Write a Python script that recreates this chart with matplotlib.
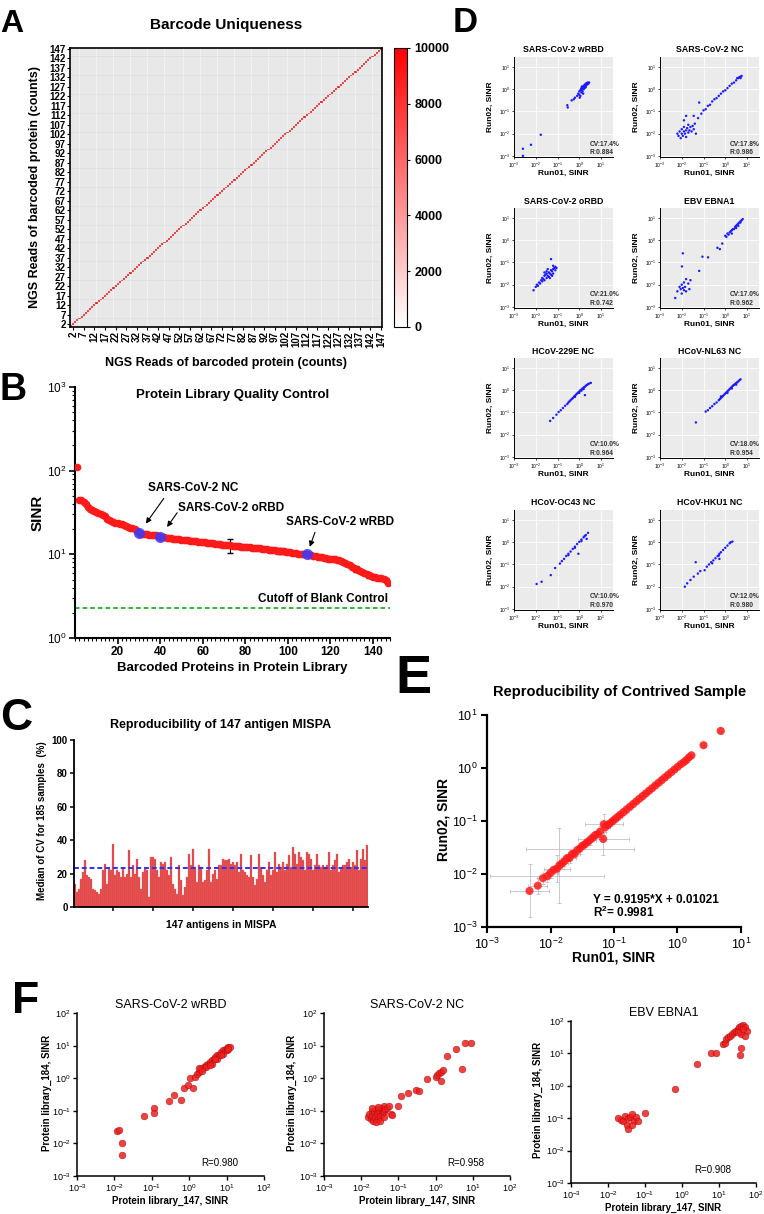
import matplotlib
matplotlib.use('Agg')
import matplotlib.pyplot as plt
import numpy as np
from matplotlib import font_manager
from matplotlib.colors import LinearSegmentedColormap
from matplotlib.ticker import MultipleLocator, NullLocator, FixedLocator, FuncFormatter

W, H = 764, 1214
names = {f.name for f in font_manager.fontManager.ttflist}
NARROW = 'Liberation Sans Narrow' if 'Liberation Sans Narrow' in names else 'Liberation Sans'

plt.rcParams.update({
    'font.family': ['Liberation Sans', 'DejaVu Sans'], 'font.size': 8,
    'mathtext.fontset': 'custom', 'mathtext.rm': 'Liberation Sans',
    'mathtext.bf': 'Liberation Sans:bold', 'mathtext.it': 'Liberation Sans:italic',
    'mathtext.default': 'bf', 'axes.linewidth': 1.0,
})

# ---------------- data ----------------
# A: barcode uniqueness heatmap (diagonal counts)
n_barcodes = 147
diag_reads = [10000] * 147
cbar_ticks = [0, 2000, 4000, 6000, 8000, 10000]

# B: SINR of 147 barcoded proteins (sorted)
sinr = [110, 45, 44, 42, 40, 37, 35, 34, 33, 32,
        31, 30, 29.5, 28.5, 26.5, 25.5, 25, 24.5, 24, 23.6,
        23.2, 23, 22.6, 22, 21.2, 20.8, 20.4, 20, 19.2, 17.8,
        17.7, 17.6, 17.4, 17.3, 17.2, 17.0, 16.9, 16.8, 16.6, 16.2,
        16.0, 15.9, 15.8, 15.6, 15.5, 15.4, 15.3, 15.2, 15.1, 15.0,
        14.9, 14.8, 14.7, 14.6, 14.5, 14.4, 14.3, 14.2, 14.1, 14.0,
        13.9, 13.8, 13.7, 13.6, 13.5, 13.4, 13.3, 13.2, 13.1, 13.0,
        12.9, 12.85, 12.8, 12.7, 12.6, 12.55, 12.5, 12.4, 12.3, 12.2,
        12.15, 12.1, 12.0, 11.95, 11.9, 11.8, 11.75, 11.7, 11.6, 11.5,
        11.4, 11.3, 11.2, 11.15, 11.1, 11.0, 10.95, 10.9, 10.8, 10.7,
        10.6, 10.5, 10.4, 10.3, 10.2, 10.15, 10.1, 10.05, 10.0, 9.8,
        9.7, 9.6, 9.5, 9.4, 9.3, 9.2, 9.1, 9.0, 8.9, 8.85,
        8.8, 8.7, 8.6, 8.5, 8.3, 8.1, 7.9, 7.6, 7.4, 7.1,
        6.9, 6.7, 6.5, 6.4, 6.2, 6.0, 5.8, 5.6, 5.5, 5.4,
        5.3, 5.25, 5.2, 5.15, 5.1, 4.9, 4.6]
err_idx = [8, 15, 18, 23, 44, 57, 73, 90, 97, 118, 125, 132, 138, 143]
err_val = [1.0, 0.8, 0.7, 0.6, 0.4, 0.5, 2.5, 0.4, 0.8, 0.4, 0.5, 0.5, 0.4, 0.3]
hl_idx = [30, 40, 109]
hl_names = ['SARS-CoV-2 NC', 'SARS-CoV-2 oRBD', 'SARS-CoV-2 wRBD']
cutoff = 2.27

# C: median CV (%) of 147 antigens
cv = [14, 9, 11, 17, 21, 28, 19, 18, 17, 11,
      10, 9, 8, 11, 22, 26, 14, 23, 22, 38,
      19, 22, 21, 18, 23, 18, 20, 34, 18, 25,
      20, 29, 18, 11, 21, 23, 22, 6, 30, 30,
      29, 22, 18, 27, 26, 27, 22, 19, 30, 14,
      11, 8, 25, 16, 7, 12, 18, 32, 25, 35,
      24, 15, 25, 24, 15, 16, 22, 35, 15, 20,
      22, 17, 25, 25, 29, 28, 28, 29, 26, 27,
      25, 27, 21, 32, 22, 21, 19, 18, 31, 18,
      13, 17, 32, 24, 19, 15, 22, 27, 19, 22,
      33, 21, 26, 24, 27, 22, 26, 31, 24, 36,
      32, 26, 33, 30, 28, 22, 33, 32, 29, 22,
      25, 32, 25, 24, 25, 24, 25, 33, 22, 25,
      28, 32, 21, 23, 25, 25, 27, 29, 24, 27,
      25, 34, 22, 29, 35, 28, 37]
cv_median = 23.4

# D: Run01 vs Run02 (log10 SINR) for 8 antigens
d1_x = [-2.59, -2.59, -2.22, -1.77, -0.53, -0.55, -0.35, -0.25, -0.2, -0.1, -0.05, 0.0, 0.0, 0.05, 0.05, 0.08, 0.1, 0.1, 0.12, 0.15, 0.15, 0.18, 0.2, 0.2, 0.22, 0.25, 0.25, 0.28, 0.3, 0.3, 0.33, 0.35, 0.38, 0.4, 0.42, 0.45, 0.02, 0.12, 0.18]
d1_y = [-2.68, -3.0, -2.5, -2.05, -0.82, -0.72, -0.5, -0.45, -0.38, -0.3, -0.2, -0.25, -0.1, -0.05, -0.3, 0.0, -0.15, 0.05, -0.05, 0.1, -0.1, 0.05, 0.15, 0.0, 0.1, 0.2, 0.05, 0.15, 0.25, 0.1, 0.2, 0.28, 0.22, 0.3, 0.25, 0.3, -0.38, 0.12, -0.2]
d2_x = [-2.2, -2.15, -2.1, -2.05, -2.0, -2.0, -1.95, -1.9, -1.9, -1.85, -1.8, -1.8, -1.75, -1.7, -1.7, -1.65, -1.6, -1.55, -1.5, -1.45, -1.4, -1.9, -1.8, -1.35, -1.2, -1.45,
        -1.25, -1.1, -1.0, -0.9, -0.8, -0.7, -0.6, -0.5, -0.4, -0.3, -0.2, -0.1, 0.0, 0.1, 0.2, 0.3, 0.4, 0.5, 0.55, 0.6, 0.65, 0.7, 0.75, 0.7]
d2_y = [-2.0, -2.1, -1.9, -2.2, -2.0, -1.8, -2.1, -1.9, -1.7, -2.0, -1.85, -2.15, -1.75, -1.95, -1.6, -1.85, -1.7, -1.9, -1.65, -1.8, -1.55, -1.4, -1.2, -2.0, -0.6, -1.2,
        -1.3, -1.1, -0.95, -0.9, -0.75, -0.7, -0.55, -0.45, -0.4, -0.3, -0.2, -0.1, -0.05, 0.05, 0.15, 0.25, 0.3, 0.4, 0.5, 0.5, 0.55, 0.55, 0.6, 0.5]
d3_x = [-2.1, -2.0, -1.95, -1.9, -1.85, -1.8, -1.75, -1.7, -1.7, -1.65, -1.6, -1.6, -1.55, -1.5, -1.5, -1.45, -1.4, -1.4, -1.35, -1.3, -1.3, -1.25, -1.2, -1.2, -1.15, -1.1, -1.1, -1.05, -1.3, -1.2, -1.5, -1.45, -1.35, -1.25, -1.6]
d3_y = [-2.25, -2.1, -2.0, -2.05, -1.9, -1.95, -1.8, -1.85, -1.7, -1.75, -1.6, -1.8, -1.55, -1.7, -1.5, -1.6, -1.45, -1.65, -1.5, -1.35, -1.55, -1.4, -1.3, -1.5, -1.25, -1.35, -1.2, -1.25, -0.85, -1.15, -1.4, -1.3, -1.7, -1.6, -1.45]
d4_x = [-2.3, -2.2, -2.1, -2.05, -2.0, -2.0, -1.95, -1.9, -1.9, -1.85, -1.8, -1.8, -1.7, -1.65, -1.6, -1.99, -1.95, -1.2, -1.05, -0.79, -0.36, -0.25, -0.14,
        0.0, 0.05, 0.1, 0.15, 0.2, 0.25, 0.3, 0.35, 0.4, 0.45, 0.5, 0.55, 0.6, 0.65, 0.7, 0.75, 0.8, 0.3, 0.5, 0.6, 0.7]
d4_y = [-2.6, -2.3, -2.1, -2.2, -2.4, -2.0, -2.15, -2.25, -1.9, -2.1, -2.3, -1.75, -1.95, -2.2, -1.8, -1.18, -0.59, -1.38, -0.74, -0.77, -0.34, -0.4, -0.15,
        0.2, 0.15, 0.3, 0.25, 0.35, 0.4, 0.45, 0.5, 0.5, 0.6, 0.65, 0.7, 0.75, 0.8, 0.85, 0.9, 0.95, 0.3, 0.55, 0.65, 0.8]
d5_x = [-1.34, -1.2, -1.05, -0.95, -0.85, -0.75, -0.65, -0.55, -0.5, -0.45, -0.4, -0.35, -0.3, -0.25, -0.2, -0.15, -0.1, -0.05, 0.0, 0.05, 0.1, 0.15, 0.2, 0.25, 0.3, 0.35, 0.4, 0.45, 0.53, 0.26, 0.0, 0.2, -0.2, 0.1]
d5_y = [-1.38, -1.25, -1.1, -0.98, -0.9, -0.8, -0.7, -0.62, -0.55, -0.5, -0.45, -0.4, -0.36, -0.3, -0.25, -0.2, -0.15, -0.1, -0.06, 0.0, 0.03, 0.08, 0.12, 0.15, 0.2, 0.24, 0.27, 0.3, 0.33, -0.22, -0.12, 0.05, -0.3, -0.02]
d6_x = [-1.35, -0.9, -0.8, -0.7, -0.6, -0.5, -0.4, -0.3, -0.25, -0.2, -0.15, -0.1, -0.05, 0.0, 0.05, 0.1, 0.15, 0.2, 0.25, 0.3, 0.35, 0.4, 0.45, 0.5, 0.55, 0.6, 0.65, 0.7, 0.1, 0.3, 0.5, -0.2]
d6_y = [-1.45, -0.96, -0.9, -0.8, -0.72, -0.62, -0.55, -0.45, -0.4, -0.35, -0.3, -0.25, -0.2, -0.15, -0.1, -0.05, 0.0, 0.05, 0.1, 0.15, 0.2, 0.24, 0.28, 0.32, 0.36, 0.4, 0.45, 0.49, -0.12, 0.08, 0.25, -0.28]
d7_x = [-1.96, -1.73, -1.31, -1.11, -0.89, -0.8, -0.7, -0.6, -0.5, -0.4, -0.3, -0.2, -0.1, 0.0, 0.1, 0.2, 0.3, 0.34, 0.4, -0.04, -0.5, -0.2, 0.1, 0.25]
d7_y = [-1.88, -1.78, -1.48, -1.16, -0.96, -0.85, -0.75, -0.62, -0.52, -0.42, -0.3, -0.2, -0.08, 0.02, 0.12, 0.22, 0.32, 0.15, 0.42, -0.52, -0.58, -0.25, 0.05, 0.28]
d8_x = [-1.86, -1.75, -1.6, -1.45, -1.36, -1.26, -1.15, -0.95, -0.85, -0.75, -0.65, -0.55, -0.45, -0.35, -0.27, -0.2, -0.1, 0.0, 0.1, 0.2, 0.25, 0.33, -0.27, -0.6, -0.3]
d8_y = [-2.0, -1.85, -1.7, -1.55, -0.9, -1.41, -1.3, -1.26, -1.1, -1.0, -0.9, -0.82, -0.72, -0.62, -0.52, -0.45, -0.35, -0.25, -0.15, -0.05, 0.0, 0.03, -0.75, -0.95, -0.6]
d_titles = ['SARS-CoV-2 wRBD', 'SARS-CoV-2 NC', 'SARS-CoV-2 oRBD', 'EBV EBNA1',
            'HCoV-229E NC', 'HCoV-NL63 NC', 'HCoV-OC43 NC', 'HCoV-HKU1 NC']
d_cv = ['17.4', '17.8', '21.0', '17.0', '10.0', '18.0', '10.0', '12.0']
d_r = ['0.884', '0.986', '0.742', '0.962', '0.964', '0.954', '0.970', '0.980']

# E: contrived sample, Run01 vs Run02 (log10 SINR) with error half-widths (log10)
e_x = [-2.33, -2.2, -2.12, -2.05, -2.0, -1.95, -1.9, -1.86, -1.82, -1.78,
       -1.74, -1.7, -1.66, -1.62, -1.58, -1.54, -1.5, -1.46, -1.42, -1.38,
       -1.34, -1.3, -1.26, -1.22, -1.17, -1.16, -1.14, -1.1, -1.06, -1.02,
       -0.98, -0.94, -0.9, -0.85, -0.8, -0.75, -0.7, -0.65, -0.6, -0.55,
       -0.5, -0.45, -0.4, -0.35, -0.3, -0.25, -0.2, -0.15, -0.1, -0.05,
       0.0, 0.05, 0.1, 0.14, 0.18, 0.22, 0.41, 0.68]
e_y = [-2.32, -2.22, -2.08, -2.04, -1.98, -1.92, -1.9, -1.84, -1.8, -1.76,
       -1.7, -1.7, -1.62, -1.62, -1.55, -1.52, -1.47, -1.44, -1.4, -1.36,
       -1.32, -1.27, -1.25, -1.2, -1.34, -1.06, -1.12, -1.08, -1.04, -1.0,
       -0.96, -0.92, -0.88, -0.83, -0.78, -0.73, -0.68, -0.63, -0.58, -0.53,
       -0.48, -0.43, -0.38, -0.33, -0.28, -0.23, -0.18, -0.13, -0.08, -0.03,
       0.02, 0.07, 0.11, 0.15, 0.2, 0.24, 0.43, 0.70]
e_xerr = [0.3, 0.15, 0.1, 0.9, 0.12, 0.08, 0.2, 0.08, 0.1, 0.08,
          0.06, 0.1, 0.06, 0.08, 0.06, 0.85, 0.06, 0.08, 0.06, 0.1,
          0.06, 0.08, 0.06, 0.1, 0.4, 0.3, 0.08, 0.06, 0.06, 0.05,
          0.05, 0.06, 0.05, 0.05, 0.06, 0.05, 0.05, 0.05, 0.05, 0.05,
          0.05, 0.05, 0.05, 0.04, 0.05, 0.04, 0.04, 0.04, 0.04, 0.04,
          0.04, 0.04, 0.04, 0.04, 0.03, 0.03, 0.04, 0.05]
e_yerr = [0.5, 0.15, 0.1, 0.12, 0.1, 0.08, 0.25, 0.7, 0.1, 0.08,
          0.06, 0.1, 0.06, 0.08, 0.06, 0.1, 0.06, 0.08, 0.06, 0.1,
          0.06, 0.08, 0.06, 0.1, 0.3, 0.2, 0.08, 0.06, 0.06, 0.05,
          0.05, 0.06, 0.05, 0.05, 0.06, 0.05, 0.05, 0.05, 0.05, 0.05,
          0.05, 0.05, 0.05, 0.04, 0.05, 0.04, 0.04, 0.04, 0.04, 0.04,
          0.04, 0.04, 0.04, 0.04, 0.03, 0.03, 0.04, 0.05]

# F: library_147 vs library_184 (log10 SINR)
f1_x = [-1.92, -1.88, -1.81, -1.80, -1.20, -0.95, -0.95, -0.55, -0.41, -0.21, -0.13, -0.03, 0.10, 0.03, 0.15, 0.2, 0.25, 0.3, 0.35, 0.4, 0.45, 0.5, 0.55, 0.6, 0.65, 0.7, 0.75, 0.8, 0.85, 0.9, 0.95, 1.0, 1.05, 1.1, 0.25, 0.45, 0.6, 0.75, 0.9, 1.0, 0.35, 0.55, 0.7, 0.85, 1.05]
f1_y = [-1.61, -1.60, -1.98, -2.35, -1.16, -0.92, -1.07, -0.70, -0.52, -0.66, -0.30, -0.21, -0.30, 0.0, 0.05, 0.12, 0.2, 0.28, 0.3, 0.35, 0.42, 0.45, 0.5, 0.55, 0.6, 0.65, 0.7, 0.72, 0.8, 0.85, 0.88, 0.92, 0.95, 0.97, 0.3, 0.35, 0.45, 0.6, 0.75, 0.85, 0.22, 0.42, 0.58, 0.72, 0.9]
f2_x = [-1.83, -1.8, -1.75, -1.72, -1.7, -1.68, -1.65, -1.62, -1.6, -1.58, -1.55, -1.52, -1.5, -1.48, -1.45, -1.42, -1.4, -1.38, -1.35, -1.3, -1.25, -1.2, -1.17, -1.7, -1.6, -1.5, -1.4, -1.55,
        -1.0, -0.92, -0.75, -0.54, -0.45, -0.24, 0.0, 0.05, 0.1, 0.15, 0.21, 0.31, 0.55, 0.79, 0.94, 0.71, 0.15]
f2_y = [-1.2, -1.1, -1.25, -1.0, -1.15, -1.3, -1.05, -1.2, -0.95, -1.1, -1.25, -1.0, -1.15, -0.9, -1.1, -1.0, -0.85, -1.05, -0.95, -0.9, -0.85, -1.1, -1.12, -0.92, -1.33, -1.3, -1.2, -0.88,
        -0.85, -0.55, -0.46, -0.37, -0.4, -0.03, 0.05, 0.1, 0.15, 0.2, 0.25, 0.68, 0.89, 1.07, 1.09, 0.27, -0.08]
f3_x = [-1.74, -1.65, -1.6, -1.55, -1.5, -1.45, -1.4, -1.35, -1.3, -1.25, -1.2, -1.01, -1.45, -1.35, -0.19, 0.41, 0.78, 0.91,
        1.11, 1.15, 1.2, 1.25, 1.3, 1.35, 1.4, 1.45, 1.5, 1.55, 1.6, 1.65, 1.7, 1.77, 1.6, 1.65, 1.57, 1.6, 1.7, 1.5]
f3_y = [-0.98, -1.05, -1.1, -0.92, -1.2, -1.0, -0.95, -0.88, -1.1, -0.95, -1.08, -0.84, -1.32, -1.2, -0.11, 0.67, 1.0, 1.0,
        1.3, 1.32, 1.45, 1.5, 1.55, 1.6, 1.65, 1.7, 1.75, 1.8, 1.85, 1.88, 1.8, 1.7, 1.6, 1.75, 0.95, 1.17, 1.55, 1.65]
f_titles = ['SARS-CoV-2 wRBD', 'SARS-CoV-2 NC', 'EBV EBNA1']
f_r = ['0.980', '0.958', '0.908']

# ---------------- helpers ----------------
def box(l, t, r, b):
    return [l / W, 1 - b / H, (r - l) / W, (b - t) / H]

def letter(ch, x, y, size, family='Liberation Sans'):
    fig.text(x / W, 1 - y / H, ch, fontsize=size, fontweight='bold', family=family,
             ha='left', va='baseline')

def decade_fmt(v, pos):
    return r'$\mathdefault{10^{%d}}$' % int(round(np.log10(v)))

def decade_fmt_rm(v, pos):
    return r'$\mathrm{10^{%d}}$' % int(round(np.log10(v)))

RED = '#ff1a1a'
fig = plt.figure(figsize=(W / 100, H / 100), dpi=100)

# ---------------- A ----------------
axA = fig.add_axes(box(70, 48, 382, 327))
mat = np.zeros((n_barcodes, n_barcodes))
idx = np.arange(n_barcodes)
mat[idx, idx] = diag_reads
edges = np.arange(n_barcodes + 1) + 0.5
cmap = LinearSegmentedColormap.from_list('wr', ['#ffffff', '#ff0000'])
mesh = axA.pcolormesh(edges, edges, mat, cmap=cmap, vmin=0, vmax=10000, zorder=1)
axA.vlines(edges, 0.5, n_barcodes + 0.5, color='#c4c4c4', lw=0.3, zorder=2)
axA.hlines(edges, 0.5, n_barcodes + 0.5, color='#c4c4c4', lw=0.3, zorder=2)
axA.set_xlim(0.5, n_barcodes + 0.5)
axA.set_ylim(0.5, n_barcodes + 0.5)
a_ticks = list(range(2, n_barcodes + 1, 5))
axA.set_xticks(a_ticks)
axA.set_yticks(a_ticks)
axA.set_xticklabels([str(t) for t in a_ticks], rotation=90, family=NARROW, fontweight='bold', fontsize=7)
axA.set_yticklabels([str(t) for t in a_ticks], family=NARROW, fontweight='bold', fontsize=7)
axA.tick_params(length=2, width=0.8, pad=1)
for s in axA.spines.values():
    s.set_linewidth(1.2)
    s.set_zorder(5)
axA.set_title('Barcode Uniqueness', fontsize=11, fontweight='bold', y=1.082, pad=0, va='center')
axA.set_ylabel('NGS Reads of barcoded protein (counts)', fontsize=9, fontweight='bold')
axA.yaxis.set_label_coords(-0.093, 0.5)
axA.set_xlabel('NGS Reads of barcoded protein (counts)', fontsize=9, fontweight='bold')
axA.xaxis.set_label_coords(0.5, -0.107)
cax = fig.add_axes(box(394, 48, 407, 327))
cb = fig.colorbar(mesh, cax=cax, ticks=cbar_ticks)
cb.outline.set_linewidth(0.8)
cax.tick_params(labelsize=9, length=2, width=0.8)
for t in cax.get_yticklabels():
    t.set_fontweight('bold')
letter('A', 0, 32, 23)

# ---------------- B ----------------
axB = fig.add_axes(box(75, 387, 390, 638))
xs = np.arange(1, len(sinr) + 1)
axB.plot(xs, sinr, 'o', color=RED, ms=5.5, mec='none', zorder=3)
ev = np.array(err_val)
ey = np.array([sinr[i - 1] for i in err_idx])
axB.errorbar(err_idx, ey, yerr=ev, fmt='none', ecolor='black', elinewidth=0.8, capsize=2.5, zorder=2)
hx = np.array(hl_idx)
hy = np.array([sinr[i - 1] for i in hl_idx])
axB.plot(hx, hy, 'o', color='#3a3aff', ms=8, alpha=0.85, mec='none', zorder=4)
axB.axhline(cutoff, color='#00a000', ls=(0, (3, 2)), lw=1.1)
axB.text(147, cutoff * 1.28, 'Cutoff of Blank Control', ha='right', va='center', fontsize=8.5, fontweight='bold')
text_off = [(54, 45), (71, 29), (33, 32)]
arrow_start = [(25, 35), (17, 24), (8, 22)]
arrow_shrink = [12, 12, 8]
for k in range(3):
    sx, sy = arrow_start[k]
    axB.annotate('', xy=(hx[k], hy[k]), xytext=(sx * 0.72, sy * 0.72), textcoords='offset points',
                 arrowprops=dict(arrowstyle='-|>', color='black', lw=0.8, mutation_scale=8,
                                 shrinkA=0, shrinkB=arrow_shrink[k] * 0.72))
    tx, ty = text_off[k]
    axB.annotate(hl_names[k], xy=(hx[k], hy[k]), xytext=(tx * 0.72, ty * 0.72), textcoords='offset points',
                 ha='center', va='center', fontsize=8.5, fontweight='bold')
axB.set_yscale('log')
axB.set_ylim(1, 1000)
axB.set_xlim(0, 148)
axB.set_xticks([20, 40, 60, 80, 100, 120, 140])
axB.xaxis.set_minor_locator(MultipleLocator(2))
axB.yaxis.set_major_formatter(FuncFormatter(decade_fmt))
axB.tick_params(labelsize=8.5, width=1.2, length=4, pad=2)
axB.tick_params(which='minor', length=2, width=0.8)
for t in axB.get_xticklabels():
    t.set_fontweight('bold')
for s in ['top', 'right']:
    axB.spines[s].set_visible(False)
for s in ['left', 'bottom']:
    axB.spines[s].set_linewidth(1.5)
axB.set_title('Protein Library Quality Control', fontsize=9.5, fontweight='bold', y=0.968, pad=0, va='center')
axB.set_ylabel('SINR', fontsize=11, fontweight='bold')
axB.yaxis.set_label_coords(-0.095, 0.5)
axB.set_xlabel('Barcoded Proteins in Protein Library', fontsize=9.5, fontweight='bold')
axB.xaxis.set_label_coords(0.5, -0.096)
letter('B', 0, 400, 27)

# ---------------- C ----------------
axC = fig.add_axes(box(74, 740, 368, 907))
cx = np.arange(1, len(cv) + 1)
axC.bar(cx, cv, width=0.8, color='#e24646', edgecolor='#f07070', linewidth=0.2)
axC.axhline(cv_median, color='#2f2fff', ls=(0, (2.5, 1.5)), lw=1.4)
axC.set_xlim(0.5, len(cv) + 0.5)
axC.set_ylim(0, 100)
axC.set_yticks([0, 20, 40, 60, 80, 100])
axC.set_xticks([20, 40, 60, 80, 100, 120, 140])
axC.set_xticklabels([])
axC.tick_params(labelsize=7, width=1.1, length=3, pad=1.5)
for t in axC.get_yticklabels():
    t.set_fontweight('bold')
for s in ['top', 'right']:
    axC.spines[s].set_visible(False)
for s in ['left', 'bottom']:
    axC.spines[s].set_linewidth(1.3)
axC.set_title('Reproducibility of 147 antigen MISPA', fontsize=9, fontweight='bold', y=1.09, pad=0, va='center')
axC.set_ylabel('Median of CV for 185 samples  (%)', fontsize=7, fontweight='bold')
axC.yaxis.set_label_coords(-0.092, 0.52)
axC.set_xlabel('147 antigens in MISPA', fontsize=7.5, fontweight='bold')
axC.xaxis.set_label_coords(0.5, -0.078)
letter('C', 0, 730, 32)

# ---------------- D ----------------
d_sets = [(d1_x, d1_y), (d2_x, d2_y), (d3_x, d3_y), (d4_x, d4_y),
          (d5_x, d5_y), (d6_x, d6_y), (d7_x, d7_y), (d8_x, d8_y)]
d_left = [514, 660]
d_top = [57, 208, 358, 510]
d_txt_x = [0.765, 0.705]
for k, (lx, ly) in enumerate(d_sets):
    l = d_left[k % 2]
    t = d_top[k // 2]
    ax = fig.add_axes(box(l, t, l + 99, t + 100))
    ax.set_facecolor('#ebebeb')
    ax.scatter(10 ** np.array(lx), 10 ** np.array(ly), s=3, color='#1a1aff', edgecolors='none', zorder=3)
    ax.set_xscale('log')
    ax.set_yscale('log')
    ax.set_xlim(10 ** -3, 10 ** 1.55)
    ax.set_ylim(10 ** -3.05, 10 ** 1.45)
    dec = [1e-3, 1e-2, 1e-1, 1e0, 1e1]
    ax.xaxis.set_major_locator(FixedLocator(dec))
    ax.yaxis.set_major_locator(FixedLocator(dec))
    ax.xaxis.set_minor_locator(NullLocator())
    ax.yaxis.set_minor_locator(NullLocator())
    ax.xaxis.set_major_formatter(FuncFormatter(decade_fmt_rm))
    ax.yaxis.set_major_formatter(FuncFormatter(decade_fmt_rm))
    ax.grid(True, color='white', lw=0.6)
    ax.set_axisbelow(True)
    ax.tick_params(labelsize=3.5, length=1.5, width=0.5, pad=1)
    for s in ['top', 'right']:
        ax.spines[s].set_visible(False)
    for s in ['left', 'bottom']:
        ax.spines[s].set_linewidth(0.7)
    ax.set_title(d_titles[k], fontsize=6.3, fontweight='bold', y=1.07, pad=0, va='center')
    ax.set_xlabel('Run01, SINR', fontsize=6, fontweight='bold')
    ax.xaxis.set_label_coords(0.5, -0.13)
    ax.set_ylabel('Run02, SINR', fontsize=6, fontweight='bold')
    ax.yaxis.set_label_coords(-0.2, 0.5)
    tx = d_txt_x[k % 2]
    ax.text(tx, 0.13, 'CV:%s%%' % d_cv[k], transform=ax.transAxes, fontsize=4.8, fontweight='bold',
            color='#333333', va='center')
    ax.text(tx, 0.045, 'R:%s' % d_r[k], transform=ax.transAxes, fontsize=4.8, fontweight='bold',
            color='#333333', va='center')
letter('D', 453, 32, 25)

# ---------------- E ----------------
axE = fig.add_axes(box(487, 715, 741, 927))
ex = np.array(e_x)
ey = np.array(e_y)
exv = 10 ** ex
eyv = 10 ** ey
xerr = np.vstack([exv - 10 ** (ex - np.array(e_xerr)), 10 ** (ex + np.array(e_xerr)) - exv])
yerr = np.vstack([eyv - 10 ** (ey - np.array(e_yerr)), 10 ** (ey + np.array(e_yerr)) - eyv])
axE.errorbar(exv, eyv, xerr=xerr, yerr=yerr, fmt='none', ecolor='#b5b5b5', elinewidth=0.5,
             capsize=1.5, capthick=0.5, zorder=2)
axE.scatter(exv, eyv, s=34, color='#ff1a1a', alpha=0.85, edgecolors='none', zorder=3)
axE.set_xscale('log')
axE.set_yscale('log')
axE.set_xlim(1e-3, 1e1)
axE.set_ylim(1e-3, 1e1)
for a in (axE.xaxis, axE.yaxis):
    a.set_major_locator(FixedLocator([1e-3, 1e-2, 1e-1, 1e0, 1e1]))
    a.set_minor_locator(NullLocator())
    a.set_major_formatter(FuncFormatter(decade_fmt))
axE.tick_params(labelsize=9, width=1.5, length=4, pad=3)
for s in ['top', 'right']:
    axE.spines[s].set_visible(False)
for s in ['left', 'bottom']:
    axE.spines[s].set_linewidth(1.6)
axE.set_title('Reproducibility of Contrived Sample', fontsize=10.5, fontweight='bold', x=0.52, y=1.108, pad=0, va='center')
axE.set_xlabel('Run01, SINR', fontsize=10, fontweight='bold')
axE.xaxis.set_label_coords(0.5, -0.113)
axE.set_ylabel('Run02, SINR', fontsize=10, fontweight='bold')
axE.yaxis.set_label_coords(-0.142, 0.505)
axE.text(0.417, 0.127, 'Y = 0.9195*X + 0.01021', transform=axE.transAxes, fontsize=8.5, fontweight='bold', va='center')
axE.text(0.417, 0.071, 'R$^{2}$= 0.9981', transform=axE.transAxes, fontsize=8.5, fontweight='bold', va='center')
letter('E', 395, 693, 39, family=NARROW)

# ---------------- F ----------------
f_sets = [(f1_x, f1_y), (f2_x, f2_y), (f3_x, f3_y)]
f_boxes = [(77, 1013, 264, 1176), (324, 1013, 510, 1176), (571, 1021, 756, 1183)]
f_ylab_x = [-0.134, -0.145, -0.151]
for k, (lx, ly) in enumerate(f_sets):
    ax = fig.add_axes(box(*f_boxes[k]))
    ax.scatter(10 ** np.array(lx), 10 ** np.array(ly), s=24, color='#ee2020', alpha=0.85,
               edgecolors='#a00000', linewidths=0.3, zorder=3)
    ax.set_xscale('log')
    ax.set_yscale('log')
    ax.set_xlim(1e-3, 1e2)
    ax.set_ylim(1e-3, 1e2)
    for a in (ax.xaxis, ax.yaxis):
        a.set_major_locator(FixedLocator([1e-3, 1e-2, 1e-1, 1e0, 1e1, 1e2]))
        a.set_minor_locator(NullLocator())
        a.set_major_formatter(FuncFormatter(decade_fmt_rm))
    ax.tick_params(labelsize=6.5, width=1.0, length=3, pad=1.5)
    for s in ['top', 'right']:
        ax.spines[s].set_visible(False)
    for s in ['left', 'bottom']:
        ax.spines[s].set_linewidth(1.1)
    ax.set_title(f_titles[k], fontsize=9, y=1.049, pad=0, va='center')
    ax.set_xlabel('Protein library_147, SINR', fontsize=7, fontweight='bold')
    ax.xaxis.set_label_coords(0.5, -0.123)
    ax.set_ylabel('Protein library_184, SINR', fontsize=7, fontweight='bold')
    ax.yaxis.set_label_coords(f_ylab_x[k], 0.51)
    ax.text(0.665, 0.078, 'R=%s' % f_r[k], transform=ax.transAxes, fontsize=7, va='center')
letter('F', 12, 1013, 32)

fig.savefig('out.png', dpi=100, facecolor='white')
